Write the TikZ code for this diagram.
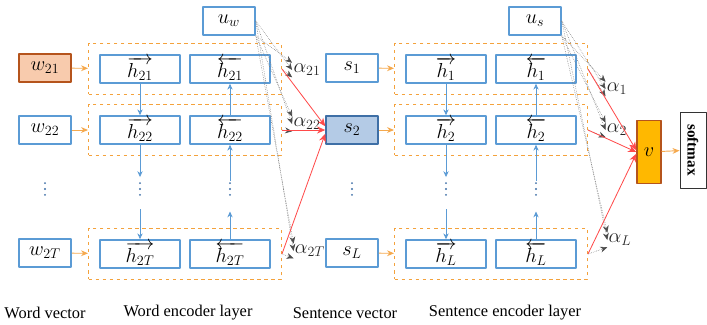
\documentclass[tikz,border=0pt]{standalone}
\usepackage{fontspec}
\setmainfont{Liberation Serif}
\usetikzlibrary{fit,arrows.meta}
\definecolor{boxblue}{HTML}{5B9BD5}
\definecolor{grporange}{HTML}{F4A23C}
\definecolor{feedorange}{HTML}{F5A94E}
\definecolor{wfill}{HTML}{F8CBAD}
\definecolor{wdraw}{HTML}{B5541C}
\definecolor{sfill}{HTML}{B4CBE6}
\definecolor{sdraw}{HTML}{3E6FA6}
\definecolor{vfill}{HTML}{FFB800}
\definecolor{mergered}{HTML}{FF4A4A}
\begin{document}
\begin{tikzpicture}[x=0.03cm,y=-0.03cm,>=stealth,line join=round,
	box/.style={draw=boxblue,line width=1.3pt,fill=white,minimum width=1.56cm,minimum height=0.84cm,inner sep=0pt,font=\LARGE},
	hbox/.style={box,minimum width=2.4cm},
	grp/.style={draw=grporange,dashed,line width=0.9pt,inner sep=0.32cm},
	feed/.style={-{Stealth[length=6pt,width=5pt]},draw=feedorange,line width=0.8pt},
	pass/.style={-{Stealth[length=5pt,width=4.5pt]},draw=boxblue,line width=0.6pt},
	merge/.style={-{Stealth[length=7pt,width=6pt]},draw=mergered,line width=0.7pt},
	att/.style={-{Stealth[length=6pt,width=5pt,black!70]},draw=gray,densely dotted,line width=0.5pt},
	dotsnode/.style={minimum width=4pt,minimum height=14pt,inner sep=0pt,
		path picture={\foreach \d in {-5pt,0pt,5pt}
			\fill[sdraw] ([yshift=\d]path picture bounding box.center) circle (0.9pt);}},
	alab/.style={font=\LARGE,text=black!85,inner sep=1pt},
	captxt/.style={font=\fontsize{14}{16}\selectfont}]
	\useasboundingbox (0,0) rectangle (707,324);
	% word level
	\node[box] (uw) at (229,21) {$u_w$};
	\node[box,fill=wfill,draw=wdraw] (w1) at (45,68) {$w_{21}$};
	\node[box] (w2) at (45,130) {$w_{22}$};
	\node[dotsnode] (wd) at (45,189) {};
	\node[box] (wT) at (45,253) {$w_{2T}$};
	\node[hbox] (hf1) at (140,69) {$\overrightarrow{h_{21}}$};
	\node[hbox] (hb1) at (230,69) {$\overleftarrow{h_{21}}$};
	\node[hbox] (hf2) at (140,130) {$\overrightarrow{h_{22}}$};
	\node[hbox] (hb2) at (230,130) {$\overleftarrow{h_{22}}$};
	\node[dotsnode] (fd) at (140,189) {};
	\node[dotsnode] (bd) at (230,189) {};
	\node[hbox] (hfT) at (140,254) {$\overrightarrow{h_{2T}}$};
	\node[hbox] (hbT) at (230,254) {$\overleftarrow{h_{2T}}$};
	\node[grp,fit=(hf1)(hb1)] (g1) {};
	\node[grp,fit=(hf2)(hb2)] (g2) {};
	\node[grp,fit=(hfT)(hbT)] (gT) {};
	\draw[feed] (w1) -- (g1);
	\draw[feed] (w2) -- (g2);
	\draw[feed] (wT) -- (gT);
	\draw[pass] (hf1) -- (hf2);
	\draw[pass] (hf2) -- ([yshift=3pt]fd.north);
	\draw[pass] ([yshift=-10pt]fd.south) -- (hfT);
	\draw[pass] (hbT) -- ([yshift=-12pt]bd.south);
	\draw[pass] (bd) -- (hb2);
	\draw[pass] (hb2) -- (hb1);
	\node[alab] (a1) at (307,70) {$\alpha_{21}$};
	\node[alab] (a2) at (307,124) {$\alpha_{22}$};
	\node[alab] (aT) at (310,251) {$\alpha_{2T}$};
	\foreach \a/\g in {a1/g1,a2/g2,aT/gT}{
		\draw[att] (uw.south east) -- (\a.north west);
		\draw[att] (uw.east) -- (\a.west);
		\draw[att] (\g.east) -- (\a.south west);}
	% sentence level
	\node[box] (s1) at (352,68) {$s_1$};
	\node[box,fill=sfill,draw=sdraw] (s2) at (352,130) {$s_2$};
	\node[dotsnode] (sd) at (352,189) {};
	\node[box] (sL) at (352,253) {$s_L$};
	\draw[merge] (g1.east) -- (s2.172);
	\draw[merge] (g2.east) -- (s2.west);
	\draw[merge] (gT.east) -- (s2.188);
	\node[box] (us) at (535,21) {$u_s$};
	\node[hbox] (sf1) at (446,69) {$\overrightarrow{h_{1}}$};
	\node[hbox] (sb1) at (536,69) {$\overleftarrow{h_{1}}$};
	\node[hbox] (sf2) at (446,130) {$\overrightarrow{h_{2}}$};
	\node[hbox] (sb2) at (536,130) {$\overleftarrow{h_{2}}$};
	\node[dotsnode] (sfd) at (446,189) {};
	\node[dotsnode] (sbd) at (536,189) {};
	\node[hbox] (sfL) at (446,254) {$\overrightarrow{h_{L}}$};
	\node[hbox] (sbL) at (536,254) {$\overleftarrow{h_{L}}$};
	\node[grp,fit=(sf1)(sb1)] (q1) {};
	\node[grp,fit=(sf2)(sb2)] (q2) {};
	\node[grp,fit=(sfL)(sbL)] (qL) {};
	\draw[feed] (s1) -- (q1);
	\draw[feed] (s2) -- (q2);
	\draw[feed] (sL) -- (qL);
	\draw[pass] (sf1) -- (sf2);
	\draw[pass] (sf2) -- ([yshift=3pt]sfd.north);
	\draw[pass] ([yshift=-10pt]sfd.south) -- (sfL);
	\draw[pass] (sbL) -- ([yshift=-12pt]sbd.south);
	\draw[pass] (sbd) -- (sb2);
	\draw[pass] (sb2) -- (sb1);
	\node[alab] (b1) at (617,89) {$\alpha_{1}$};
	\node[alab] (b2) at (617,130) {$\alpha_{2}$};
	\node[alab] (bL) at (620,240) {$\alpha_{L}$};
	\foreach \a/\g in {b1/q1,b2/q2,bL/qL}{
		\draw[att] (us.south east) -- (\a.north west);
		\draw[att] (us.east) -- (\a.west);
		\draw[att] (\g.east) -- (\a.south west);}
	\node[draw=wdraw,fill=vfill,line width=1.2pt,minimum width=0.72cm,minimum height=1.89cm,inner sep=0pt,font=\LARGE] (v) at (649,152) {$v$};
	\draw[merge] (q1.east) -- (v.172);
	\draw[merge] (q2.east) -- (v.west);
	\draw[merge] (qL.east) -- (v.188);
	\node[draw=black!80,line width=0.8pt,minimum width=0.78cm,minimum height=2.28cm,inner sep=0pt] (sm) at (693,150) {};
	\node[rotate=-90,font=\fontsize{13}{15}\selectfont\bfseries] at (sm) {softmax};
	\draw[feed] (v) -- (sm);
	% captions
	\node[captxt] at (45,313) {Word vector};
	\node[captxt] at (188,313) {Word encoder layer};
	\node[captxt] at (345,313) {Sentence vector};
	\node[captxt] at (505,313) {Sentence encoder layer};
\end{tikzpicture}
\end{document}
